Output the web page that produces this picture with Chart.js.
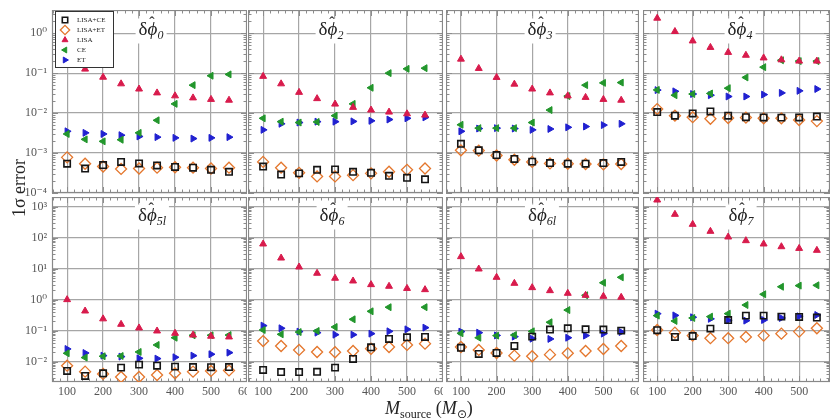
<!DOCTYPE html>
<html lang="en">
<head>
<meta charset="UTF-8">
<title>1σ error vs M_source</title>
<style>
  html, body { margin: 0; padding: 0; background: #fff; overflow: hidden; width: 834px; height: 418px; }
  #wrap { position: relative; width: 834px; height: 418px; overflow: hidden; }
  canvas.panel { position: absolute; }
  .ptitle { position: absolute; z-index: 5; font-family: 'Liberation Serif', 'DejaVu Serif', serif; font-size: 19px;
            color: #222; background: #fff; padding: 1px 3px 0 3px; line-height: 18px; transform: translate(-50%, -50%); white-space: nowrap; }
  .ptitle sub { font-size: 12px; font-style: italic; vertical-align: -4px; }
  .hat { position: relative; display: inline-block; font-style: italic; }
  .hat span { position: absolute; left: 44%; top: -6px; transform: translateX(-50%); font-style: normal; font-size: 16px; }
  #ytitle { position: absolute; z-index: 5; left: 19px; top: 188px; transform: translate(-50%, -50%) rotate(-90deg);
            font-family: 'Liberation Serif', serif; font-size: 18px; color: #222; white-space: nowrap; }
  #xtitle { position: absolute; z-index: 5; left: 385px; top: 398px; font-family: 'Liberation Serif', serif;
            font-size: 18px; color: #222; white-space: nowrap; }
  #xtitle sub { font-size: 12px; vertical-align: -4px; }
</style>
</head>
<body>
<div id="wrap">
  <div id="ytitle">1σ error</div>
  <div id="xtitle"><i>M</i><sub>source</sub> (<i>M</i><sub>⊙</sub>)</div>
</div>

<script src="https://cdn.jsdelivr.net/npm/chart.js"></script>
<script>
  // source mass (x) for every panel
  const massX = [100, 150, 200, 250, 300, 350, 400, 450, 500, 550];

  const panelNames = ['0', '2', '3', '4', '5l', '6', '6l', '7'];

  // one row per panel, same order as panelNames
  const lisaCE = [
    [0.00054, 0.00041, 0.0005, 0.0006, 0.00055, 0.00049, 0.00045, 0.00043, 0.00038, 0.00034],
    [0.00046, 0.00029, 0.00031, 0.00038, 0.00039, 0.00034, 0.00032, 0.00027, 0.00024, 0.00022],
    [0.0017, 0.00117, 0.00089, 0.00071, 0.00061, 0.00056, 0.00054, 0.00054, 0.00056, 0.0006],
    [0.0106, 0.0086, 0.0098, 0.011, 0.0086, 0.0079, 0.0078, 0.0077, 0.0078, 0.0082],
    [0.005, 0.00345, 0.0042, 0.0064, 0.008, 0.0074, 0.0069, 0.0067, 0.0066, 0.0067],
    [0.0054, 0.0046, 0.0046, 0.0047, 0.0064, 0.0122, 0.029, 0.054, 0.061, 0.0625],
    [0.028, 0.0177, 0.019, 0.032, 0.064, 0.108, 0.119, 0.11, 0.108, 0.1],
    [0.103, 0.0625, 0.067, 0.116, 0.22, 0.305, 0.305, 0.283, 0.276, 0.265]
  ];
  const lisaET = [
    [0.00078, 0.00054, 0.00046, 0.0004, 0.00041, 0.00043, 0.00044, 0.00043, 0.00041, 0.00043],
    [0.0006, 0.00043, 0.00032, 0.00026, 0.00026, 0.00028, 0.00031, 0.00034, 0.00038, 0.00041],
    [0.00117, 0.00115, 0.00087, 0.00068, 0.0006, 0.00055, 0.00054, 0.00053, 0.00052, 0.00053],
    [0.0126, 0.0086, 0.0079, 0.0072, 0.0075, 0.0077, 0.0074, 0.0074, 0.0067, 0.0063],
    [0.0074, 0.00475, 0.004, 0.0032, 0.0032, 0.0037, 0.0042, 0.00475, 0.005, 0.0052],
    [0.046, 0.032, 0.0238, 0.0205, 0.02, 0.022, 0.026, 0.0297, 0.0345, 0.038],
    [0.0297, 0.0238, 0.019, 0.0156, 0.0149, 0.0168, 0.0186, 0.022, 0.0256, 0.032],
    [0.105, 0.086, 0.069, 0.057, 0.057, 0.0625, 0.069, 0.08, 0.093, 0.119]
  ];
  const lisa = [
    [0.25, 0.126, 0.079, 0.054, 0.04, 0.032, 0.027, 0.024, 0.022, 0.021],
    [0.083, 0.054, 0.033, 0.023, 0.0168, 0.0139, 0.0119, 0.0106, 0.0096, 0.0089],
    [0.224, 0.131, 0.078, 0.053, 0.04, 0.032, 0.027, 0.0247, 0.022, 0.021],
    [2.37, 1.1, 0.64, 0.44, 0.33, 0.28, 0.24, 0.215, 0.2, 0.2],
    [1.0, 0.43, 0.24, 0.16, 0.122, 0.0975, 0.082, 0.072, 0.066, 0.0625],
    [62.5, 22, 11.3, 7.1, 4.9, 4.0, 3.05, 2.7, 2.3, 2.1],
    [24.4, 9.75, 5.25, 3.36, 2.44, 1.95, 1.6, 1.38, 1.28, 1.19],
    [1640, 566, 269, 160, 105, 80, 62.5, 51, 45, 39]
  ];
  const ce = [
    [0.003, 0.0022, 0.00196, 0.00215, 0.0032, 0.0066, 0.017, 0.05, 0.086, 0.093],
    [0.0074, 0.0061, 0.0058, 0.006, 0.0086, 0.017, 0.043, 0.1, 0.128, 0.133],
    [0.0051, 0.0042, 0.0042, 0.0042, 0.0058, 0.0119, 0.0266, 0.05, 0.057, 0.058],
    [0.038, 0.028, 0.03, 0.031, 0.042, 0.078, 0.141, 0.21, 0.2, 0.2],
    [0.0186, 0.0135, 0.0149, 0.0152, 0.0205, 0.0345, 0.059, 0.0707, 0.0707, 0.072],
    [0.105, 0.076, 0.09, 0.0975, 0.131, 0.232, 0.42, 0.57, null, 0.57],
    [0.082, 0.059, 0.069, 0.072, 0.095, 0.186, 0.46, 1.38, 3.5, 5.25],
    [0.305, 0.205, 0.256, 0.283, 0.353, 0.67, 1.49, 2.6, 2.83, 2.9]
  ];
  const et = [
    [0.0035, 0.0032, 0.003, 0.0028, 0.0026, 0.0025, 0.0024, 0.0023, 0.0024, 0.0025],
    [0.0038, 0.0054, 0.0058, 0.0061, 0.0061, 0.0062, 0.0064, 0.0069, 0.0074, 0.0078],
    [0.0035, 0.0041, 0.0042, 0.0041, 0.0038, 0.004, 0.0044, 0.0046, 0.005, 0.0054],
    [0.0376, 0.035, 0.03, 0.028, 0.026, 0.026, 0.029, 0.032, 0.036, 0.04],
    [0.0256, 0.019, 0.0156, 0.0145, 0.0128, 0.0125, 0.0138, 0.0156, 0.0173, 0.0195],
    [0.145, 0.119, 0.093, 0.086, 0.074, 0.074, 0.08, 0.095, 0.11, 0.125],
    [0.093, 0.086, 0.07, 0.064, 0.055, 0.054, 0.059, 0.069, 0.08, 0.09],
    [0.353, 0.31, 0.27, 0.24, 0.215, 0.21, 0.22, 0.256, 0.29, 0.32]
  ];

  const seriesNames = ['LISA+CE', 'LISA+ET', 'LISA', 'CE', 'ET'];

  // tick values / labels
  const xTicks = [100, 200, 300, 400, 500, 600];
  const topYTicks = [1e-4, 1e-3, 1e-2, 1e-1, 1];
  const topYLabels = ['10⁻⁴', '10⁻³', '10⁻²', '10⁻¹', '10⁰'];
  const botYTicks = [1e-2, 1e-1, 1, 10, 100, 1000];
  const botYLabels = ['10⁻²', '10⁻¹', '10⁰', '10¹', '10²', '10³'];

  // layout of the 2x4 grid (plot areas in page px)
  const colLeft = [52, 248, 446, 643];
  const colWidth = [195, 195, 193, 187];
  const colXRange = [[58, 600], [58, 600], [58, 600], [60, 587]];
  const rowTop = [10, 197];
  const rowHeight = [183, 185];
  const rowRange = [[1e-4, 3.8], [0.0022, 2050]];
  const titlePos = [[151, 31], [331, 31], [540, 31], [740, 31],
                    [152, 217], [332, 217], [542, 217], [741, 217]];

  const serif = "'Liberation Serif', 'DejaVu Serif', serif";

  const styles = [
    { pointStyle: 'rect', radius: 4.5, rotation: 0, fill: 'rgba(0,0,0,0)', border: '#151515', bw: 1.6 },
    { pointStyle: 'rectRot', radius: 5.5, rotation: 0, fill: 'rgba(0,0,0,0)', border: '#e4762c', bw: 1.3 },
    { pointStyle: 'triangle', radius: 4, rotation: 0, fill: '#d81b4c', border: '#d81b4c', bw: 1 },
    { pointStyle: 'triangle', radius: 4, rotation: -90, fill: '#22962c', border: '#22962c', bw: 1 },
    { pointStyle: 'triangle', radius: 4, rotation: 90, fill: '#2020d0', border: '#2020d0', bw: 1 }
  ];

  // no automatic label padding: plot area must sit exactly where we put it
  const noPad = s => { s.paddingTop = 0; s.paddingBottom = 0; s.paddingLeft = 0; s.paddingRight = 0; };

  // frame + inward minor ticks on all four sides
  const frameTicks = {
    id: 'frameTicks',
    beforeDatasetsDraw(chart) {
      const { ctx, chartArea: a, scales: { x, y } } = chart;
      ctx.save();
      ctx.strokeStyle = '#8c8c8c';
      ctx.lineWidth = 1;
      ctx.beginPath();
      for (let v = 60; v <= 600; v += 20) {
        if (v < x.min || v > x.max) continue;
        const px = Math.round(x.getPixelForValue(v)) + 0.5;
        const len = v % 100 === 0 ? 6 : 3.5;
        ctx.moveTo(px, a.top); ctx.lineTo(px, a.top + len);
        ctx.moveTo(px, a.bottom); ctx.lineTo(px, a.bottom - len);
      }
      const e0 = Math.floor(Math.log10(y.min)), e1 = Math.ceil(Math.log10(y.max));
      for (let e = e0; e <= e1; e++) {
        for (let m = 1; m <= 9; m++) {
          const v = m * Math.pow(10, e);
          if (v < y.min || v > y.max) continue;
          const py = Math.round(y.getPixelForValue(v)) + 0.5;
          const len = m === 1 ? 6 : 3.5;
          ctx.moveTo(a.left, py); ctx.lineTo(a.left + len, py);
          ctx.moveTo(a.right, py); ctx.lineTo(a.right - len, py);
        }
      }
      ctx.stroke();
      ctx.strokeStyle = '#888';
      ctx.lineWidth = 1.2;
      ctx.strokeRect(a.left + 0.5, a.top + 0.5, a.width - 1, a.height - 1);
      ctx.restore();
    }
  };

  // legend box inside the first panel
  const boxLegend = {
    id: 'boxLegend',
    afterDatasetsDraw(chart) {
      if (!chart.options.plugins.boxLegend.show) return;
      const ctx = chart.ctx;
      const a = chart.chartArea;
      const bx = a.left + 3, by = a.top + 1, bw = 58, bh = 56;
      ctx.save();
      ctx.fillStyle = '#fff';
      ctx.strokeStyle = '#333';
      ctx.lineWidth = 1;
      ctx.fillRect(bx, by, bw, bh);
      ctx.strokeRect(bx + 0.5, by + 0.5, bw, bh);
      ctx.font = '7px ' + serif;
      ctx.textBaseline = 'middle';
      chart.data.datasets.forEach((ds, i) => {
        const cy = by + 9 + i * 10;
        ctx.fillStyle = ds.backgroundColor;
        ctx.strokeStyle = ds.borderColor;
        ctx.lineWidth = ds.borderWidth;
        Chart.helpers.drawPoint(ctx, {
          pointStyle: ds.pointStyle, radius: ds.pointRadius * 0.85, rotation: ds.rotation, borderWidth: ds.borderWidth
        }, bx + 10, cy);
        ctx.fillStyle = '#222';
        ctx.fillText(ds.label, bx + 22, cy);
      });
      ctx.restore();
    }
  };

  const wrap = document.getElementById('wrap');

  panelNames.forEach((name, p) => {
    const row = Math.floor(p / 4), col = p % 4;
    const yw = col === 0 ? 52 : 0;
    const xh = row === 1 ? 26 : 10;
    const cv = document.createElement('canvas');
    cv.className = 'panel';
    cv.width = colWidth[col] + yw;
    cv.height = rowHeight[row] + xh;
    cv.style.left = (colLeft[col] - yw) + 'px';
    cv.style.top = rowTop[row] + 'px';
    wrap.appendChild(cv);

    const yTicks = row === 0 ? topYTicks : botYTicks;
    const yLabels = row === 0 ? topYLabels : botYLabels;
    const cols = [lisaCE, lisaET, lisa, ce, et];

    const datasets = cols.map((arr, s) => ({
      label: seriesNames[s],
      data: massX.map((m, i) => ({ x: m, y: arr[p][i] })).filter(d => d.y !== null),
      pointStyle: styles[s].pointStyle,
      pointRadius: styles[s].radius,
      rotation: styles[s].rotation,
      backgroundColor: styles[s].fill,
      borderColor: styles[s].border,
      borderWidth: styles[s].bw
    }));

    new Chart(cv, {
      type: 'scatter',
      data: { datasets: datasets },
      options: {
        responsive: false,
        animation: false,
        layout: { padding: 0, autoPadding: false },
        plugins: {
          legend: { display: false },
          tooltip: { enabled: false },
          boxLegend: { show: p === 0 }
        },
        scales: {
          x: {
            type: 'linear', min: colXRange[col][0], max: colXRange[col][1],
            afterBuildTicks: s => { s.ticks = xTicks.filter(v => v <= s.max).map(v => ({ value: v })); },
            afterFit: s => { s.height = xh; noPad(s); },
            ticks: { display: row === 1, color: '#555', padding: 3, font: { family: serif, size: 12 } },
            grid: { color: '#a6a6a6', lineWidth: 1.2, drawTicks: false },
            border: { display: false }
          },
          y: {
            type: 'logarithmic', min: rowRange[row][0], max: rowRange[row][1],
            afterBuildTicks: s => { s.ticks = yTicks.map(v => ({ value: v })); },
            afterFit: s => { s.width = yw; noPad(s); },
            ticks: {
              display: col === 0, color: '#555', padding: 5, font: { family: serif, size: 12 },
              callback: v => yLabels[yTicks.findIndex(t => Math.abs(Math.log10(t) - Math.log10(v)) < 1e-6)]
            },
            grid: { color: '#a6a6a6', lineWidth: 1.2, drawTicks: false },
            border: { display: false }
          }
        }
      },
      plugins: [frameTicks, boxLegend]
    });

    const t = document.createElement('div');
    t.className = 'ptitle';
    t.style.left = titlePos[p][0] + 'px';
    t.style.top = titlePos[p][1] + 'px';
    const sub = name.replace('l', '<i>l</i>');
    t.innerHTML = 'δ<span class="hat">ϕ<span>ˆ</span></span><sub>' + sub + '</sub>';
    wrap.appendChild(t);
  });
</script>
</body>
</html>
